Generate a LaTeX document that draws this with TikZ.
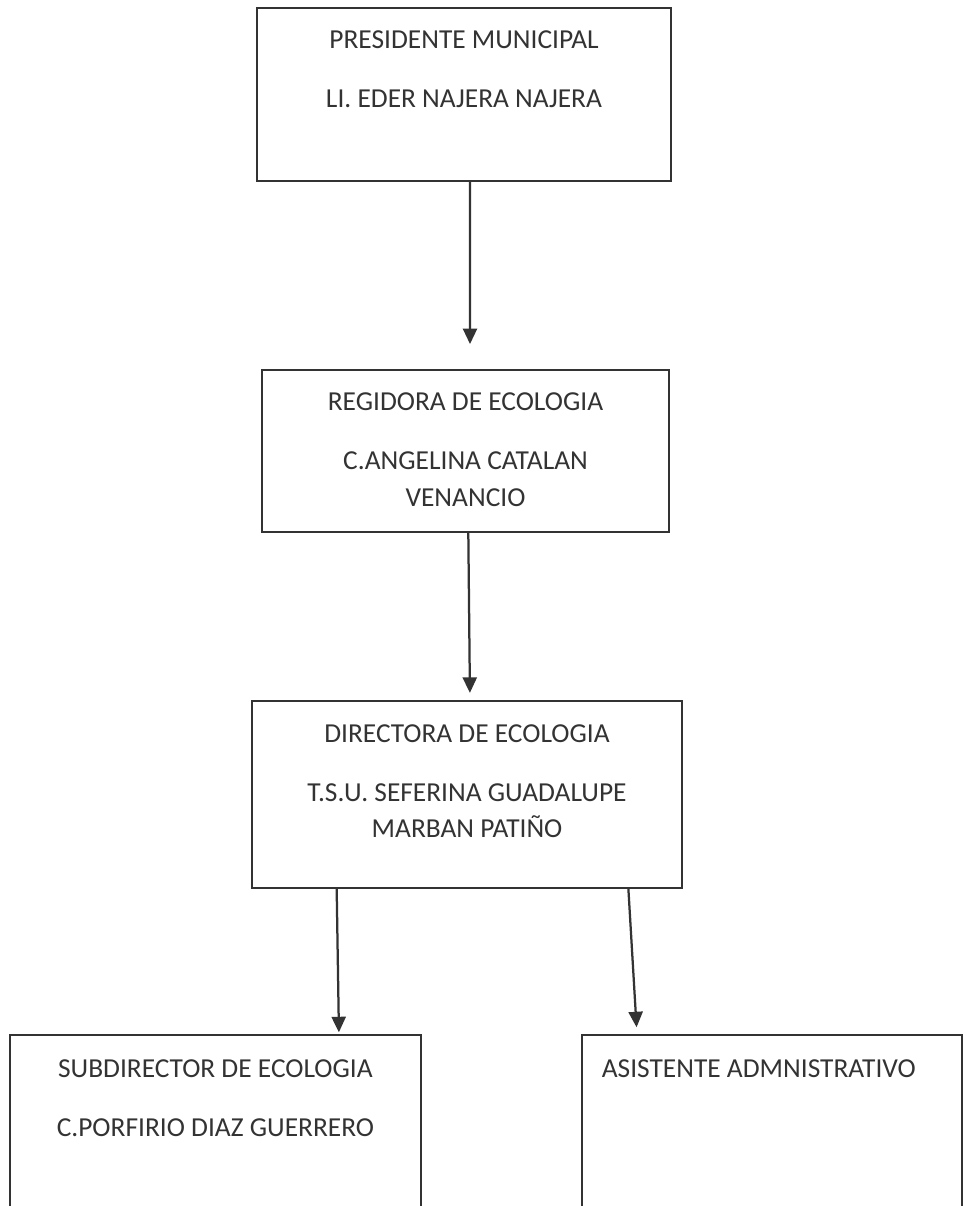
\documentclass[tikz,border=0pt]{standalone}
\usepackage{fontspec}
\setmainfont{Carlito}
\usepackage{tikz}
\usetikzlibrary{positioning, arrows.meta}
\definecolor{ink}{HTML}{333333}
\tikzset{every picture/.style={line width=1.1pt}}

\begin{document}
\begin{tikzpicture}[x=0.025cm, y=-0.025cm,
        box/.style={draw=ink, rectangle, outer sep=0pt, inner sep=0pt},
        txt/.style={align=center, inner sep=0pt, text=ink, font=\fontsize{19.5}{26}\selectfont},
        arr/.style={-{Triangle[width=10pt,length=11pt]}, draw=ink, line width=1.6pt}]
        \useasboundingbox (0,0) rectangle (967,1206);
        \clip (0,0) rectangle (967,1206);
        % boxes
        \node[box, minimum width=10.35cm, minimum height=4.325cm] (pres) at (464,94.5) {};
        \node[box, minimum width=10.175cm, minimum height=4.05cm, below=4.725cm of pres, xshift=0.0375cm] (reg) {};
        \node[box, minimum width=10.75cm, minimum height=4.6825cm, below=4.2175cm of reg, xshift=0.0375cm] (dir) {};
        \node[box, minimum width=10.275cm, minimum height=6cm, below=3.675cm of dir, xshift=-6.2875cm] (sub) {};
        \node[box, minimum width=9.5cm, minimum height=6cm, below=3.675cm of dir, xshift=7.625cm] (asis) {};
        % texts
        \node[txt, below=0.55cm of pres.north] (presT) {PRESIDENTE MUNICIPAL\\[16pt]LI. EDER NAJERA NAJERA};
        \node[txt, below=0.55cm of reg.north] (regT) {REGIDORA DE ECOLOGIA\\[16pt]C.ANGELINA CATALAN\\VENANCIO};
        \node[txt, below=0.57cm of dir.north] (dirT) {DIRECTORA DE ECOLOGIA\\[16pt]T.S.U. SEFERINA GUADALUPE\\MARBAN PATIÑO};
        \node[txt, below=0.6cm of sub.north] (subT) {SUBDIRECTOR DE ECOLOGIA\\[16pt]C.PORFIRIO DIAZ GUERRERO};
        \node[txt, below right=0.6cm and 0.475cm of asis.north west] (asisT) {ASISTENTE ADMNISTRATIVO};
        % arrows
        \draw[arr, shorten >=0.65cm] ([xshift=0.15cm]pres.south) -- ([xshift=0.1125cm]reg.north);
        \draw[arr, shorten >=0.2cm] ([xshift=0.07cm]reg.south) -- ([xshift=0.075cm]dir.north);
        \draw[arr, shorten >=0.075cm] ([xshift=-3.2575cm]dir.south) -- ([xshift=3.0875cm]sub.north);
        \draw[arr, shorten >=0.2cm] ([xshift=4.0325cm]dir.south) -- ([xshift=-3.375cm]asis.north);
\end{tikzpicture}
\end{document}
